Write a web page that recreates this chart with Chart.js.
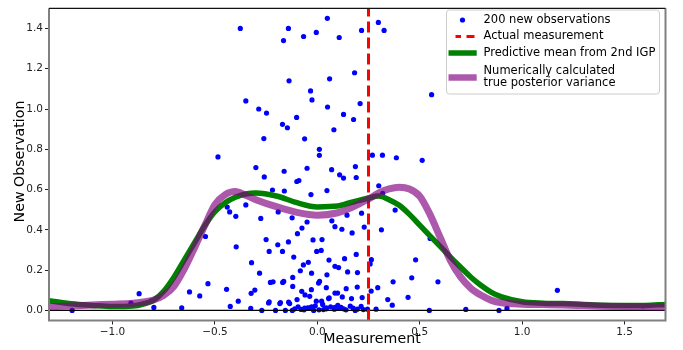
<!DOCTYPE html>
<html>
<head>
<meta charset="utf-8">
<script src="https://cdn.jsdelivr.net/npm/chart.js@4"></script>
<style>
  html, body { margin: 0; padding: 0; background: #fff; }
  canvas { display: block; }
</style>
</head>
<body>
<canvas id="chart" width="683" height="350"></canvas>
<script>
// 200 new observations
const obsX = [
  -0.376,-0.141,-0.165,-0.067,-0.005,0.049,0.107,0.216,0.298,0.326,
  -0.138,0.060,0.182,-0.033,-0.026,-0.349,-0.286,-0.248,0.050,0.128,
  0.209,0.558,-0.170,-0.146,-0.101,0.177,0.081,-0.261,-0.062,0.010,
  0.010,-0.485,0.269,0.318,0.386,0.512,-0.300,-0.162,-0.050,0.070,
  0.186,0.109,0.128,0.190,-0.259,-0.100,-0.090,-0.219,-0.161,-0.031,
  0.047,0.300,0.319,-0.440,-0.349,-0.428,-0.398,-0.276,-0.191,-0.123,
  -0.050,0.071,0.145,0.216,0.380,-0.075,-0.097,0.086,0.120,0.170,
  0.229,0.313,-0.546,0.551,-0.396,-0.250,-0.193,-0.141,-0.021,0.023,
  -0.235,-0.170,-0.003,0.019,-0.115,0.057,0.133,0.190,0.264,0.258,
  0.480,-0.321,-0.044,-0.068,0.086,0.104,-0.083,-0.028,-0.282,0.047,
  0.148,0.196,-0.120,0.461,-0.229,-0.216,-0.169,-0.164,0.011,0.006,
  -0.534,0.370,0.589,-0.120,0.044,-0.029,0.141,0.195,0.295,-0.443,
  -0.305,-0.323,-0.076,0.086,0.099,0.263,1.172,-0.870,-0.624,-0.574,
  -0.060,-0.037,0.058,0.122,0.167,0.219,0.443,0.344,-0.099,0.055,
  -0.811,-0.386,-0.005,0.021,-0.238,-0.235,-0.183,-0.180,-0.140,-0.135,
  -0.910,0.026,0.366,1.590,-0.425,-0.010,-0.094,0.161,0.214,-0.798,
  -0.662,-0.325,-0.062,-0.047,-0.040,0.044,0.086,0.101,0.116,0.926,
  -0.079,0.008,0.044,0.140,0.245,0.287,0.725,-1.197,-0.271,-0.204,
  -0.156,-0.122,-0.018,0.185,0.547,0.887,0.083,
  -0.110,0.030,0.065,0.128,-0.028,0.195,0.100,-0.065,0.175,0.225
];
const obsY = [
  1.40,1.40,1.34,1.36,1.38,1.45,1.355,1.39,1.43,1.39,
  1.14,1.15,1.18,1.09,1.045,1.04,1.00,0.98,1.01,0.973,
  1.027,1.071,0.924,0.907,0.958,0.948,0.897,0.853,0.852,0.80,
  0.77,0.762,0.771,0.771,0.758,0.745,0.709,0.691,0.706,0.699,
  0.714,0.673,0.657,0.660,0.663,0.640,0.645,0.598,0.593,0.575,
  0.595,0.619,0.581,0.513,0.524,0.489,0.467,0.457,0.489,0.460,
  0.439,0.445,0.473,0.483,0.498,0.409,0.381,0.416,0.403,0.385,
  0.414,0.400,0.367,0.357,0.316,0.352,0.326,0.340,0.350,0.352,
  0.293,0.293,0.293,0.298,0.265,0.250,0.257,0.278,0.252,0.231,
  0.251,0.237,0.239,0.226,0.219,0.213,0.197,0.185,0.185,0.177,
  0.191,0.188,0.164,0.162,0.139,0.142,0.139,0.144,0.144,0.136,
  0.133,0.142,0.142,0.119,0.113,0.103,0.108,0.116,0.113,0.105,
  0.101,0.085,0.095,0.086,0.086,0.096,0.100,0.083,0.092,0.072,
  0.077,0.070,0.062,0.067,0.059,0.064,0.065,0.054,0.054,0.059,
  0.047,0.046,0.046,0.046,0.037,0.042,0.034,0.039,0.041,0.034,
  0.037,0.030,0.026,0.023,0.020,0.023,0.018,0.021,0.020,0.015,
  0.013,0.010,0.012,0.013,0.012,0.013,0.015,0.010,0.015,0.010,
  0.005,0.003,0.008,0.003,0.006,0.006,0.005,0.000,0.000,0.000,
  0.000,0.000,0.000,0.000,0.000,0.000,0.006,
  0.008,0.004,0.018,0.008,0.018,0.006,0.025,0.003,0.012,0.004
];

// curves
const curveX = [-1.31,-1.2,-1.1,-1.0,-0.9,-0.85,-0.8,-0.75,-0.7,-0.65,
  -0.6,-0.55,-0.5,-0.45,-0.4,-0.35,-0.3,-0.2,-0.1,0.0,
  0.1,0.15,0.2,0.25,0.3,0.35,0.4,0.45,0.5,0.55,
  0.6,0.65,0.7,0.75,0.8,0.85,0.9,1.0,1.1,1.2,
  1.3,1.4,1.5,1.6,1.7];
const predMean = [0.048,0.033,0.025,0.019,0.022,0.032,0.05,0.095,0.165,0.25,
  0.335,0.42,0.49,0.535,0.562,0.578,0.583,0.568,0.535,0.514,
  0.518,0.532,0.545,0.558,0.568,0.55,0.522,0.477,0.423,0.37,
  0.318,0.265,0.214,0.165,0.124,0.09,0.067,0.043,0.036,0.034,
  0.03,0.026,0.024,0.025,0.03];
const trueVar = [0.018,0.022,0.027,0.031,0.036,0.042,0.052,0.075,0.12,0.205,
  0.31,0.42,0.525,0.575,0.59,0.572,0.55,0.515,0.487,0.473,
  0.485,0.503,0.527,0.553,0.583,0.603,0.612,0.603,0.567,0.477,
  0.362,0.247,0.165,0.11,0.075,0.05,0.038,0.031,0.029,0.027,
  0.024,0.021,0.019,0.018,0.017];

const actualMeasurement = 0.25;
const xTicks = [-1.0, -0.5, 0.0, 0.5, 1.0, 1.5];
const yTicks = [0.0, 0.2, 0.4, 0.6, 0.8, 1.0, 1.2, 1.4];
const xRange = [-1.31, 1.70];
const yRange = [-0.05, 1.5];
const legendLabels = ["200 new observations", "Actual measurement",
  "Predictive mean from 2nd IGP", ["Numerically calculated", "true posterior variance"]];

const FONT = '"DejaVu Sans", sans-serif';
const PURPLE = 'rgba(128,0,128,0.65)';

function fmt(v) {
  return Number(v).toFixed(1).replace('-', '\u2212');
}

// frame, axis titles and legend
const overlay = {
  id: 'overlay',
  afterDraw(chart) {
    const { ctx, chartArea: a } = chart;
    ctx.save();
    ctx.strokeStyle = '#808080';
    ctx.lineWidth = 2;
    ctx.beginPath();
    ctx.moveTo(a.left, a.top);
    ctx.lineTo(a.left, a.bottom);
    ctx.lineTo(a.right, a.bottom);
    ctx.lineTo(a.right, a.top);
    ctx.stroke();
    ctx.strokeStyle = '#111';
    ctx.lineWidth = 1.3;
    ctx.beginPath();
    ctx.moveTo(a.left, a.top);
    ctx.lineTo(a.right, a.top);
    ctx.stroke();

    ctx.fillStyle = '#000';
    ctx.font = '14.2px ' + FONT;
    ctx.textAlign = 'center';
    ctx.textBaseline = 'middle';
    ctx.fillText('Measurement', 372, 339.5);
    ctx.save();
    ctx.translate(20.5, 161.5);
    ctx.rotate(-Math.PI / 2);
    ctx.fillText('New Observation', 0, 0);
    ctx.restore();

    // legend box
    const bx = 446.5, by = 10, bw = 213, bh = 84, r = 3;
    ctx.beginPath();
    ctx.moveTo(bx + r, by);
    ctx.arcTo(bx + bw, by, bx + bw, by + bh, r);
    ctx.arcTo(bx + bw, by + bh, bx, by + bh, r);
    ctx.arcTo(bx, by + bh, bx, by, r);
    ctx.arcTo(bx, by, bx + bw, by, r);
    ctx.closePath();
    ctx.fillStyle = 'rgba(255,255,255,0.8)';
    ctx.fill();
    ctx.strokeStyle = '#cccccc';
    ctx.lineWidth = 1;
    ctx.stroke();

    const hx0 = 448.5, hx1 = 476.7, tx = 483.5;
    // marker
    ctx.fillStyle = '#0000ff';
    ctx.beginPath();
    ctx.arc(462.5, 20, 2.6, 0, Math.PI * 2);
    ctx.fill();
    // dashed red
    ctx.strokeStyle = '#ff0000';
    ctx.lineWidth = 3;
    ctx.beginPath();
    ctx.moveTo(455.5, 36.5); ctx.lineTo(461, 36.5);
    ctx.moveTo(466.5, 36.5); ctx.lineTo(474.5, 36.5);
    ctx.stroke();
    // green
    ctx.strokeStyle = '#008000';
    ctx.lineWidth = 5.5;
    ctx.beginPath();
    ctx.moveTo(hx0, 53); ctx.lineTo(hx1, 53);
    ctx.stroke();
    // purple
    ctx.strokeStyle = PURPLE;
    ctx.lineWidth = 6.5;
    ctx.beginPath();
    ctx.moveTo(hx0, 77.5); ctx.lineTo(hx1, 77.5);
    ctx.stroke();

    ctx.fillStyle = '#000';
    ctx.font = '11.5px ' + FONT;
    ctx.textAlign = 'left';
    ctx.textBaseline = 'middle';
    ctx.fillText(legendLabels[0], tx, 20);
    ctx.fillText(legendLabels[1], tx, 36.5);
    ctx.fillText(legendLabels[2], tx, 53);
    ctx.fillText(legendLabels[3][0], tx, 71);
    ctx.fillText(legendLabels[3][1], tx, 83.5);
    ctx.restore();
  }
};

const ctx = document.getElementById('chart').getContext('2d');
new Chart(ctx, {
  type: 'scatter',
  data: {
    datasets: [
      {
        label: legendLabels[0],
        data: obsX.map((x, i) => ({ x: x, y: obsY[i] })),
        backgroundColor: '#0000ff',
        borderWidth: 0,
        pointRadius: 2.6,
        order: 5
      },
      {
        label: 'zero',
        data: [{ x: xRange[0], y: 0 }, { x: xRange[1], y: 0 }],
        showLine: true,
        borderColor: '#000',
        borderWidth: 1.2,
        pointRadius: 0,
        order: 4
      },
      {
        label: legendLabels[1],
        data: [{ x: actualMeasurement, y: yRange[0] }, { x: actualMeasurement, y: yRange[1] }],
        showLine: true,
        borderColor: '#ff0000',
        borderWidth: 3,
        borderDash: [11, 5],
        pointRadius: 0,
        order: 3
      },
      {
        label: legendLabels[2],
        data: curveX.map((x, i) => ({ x: x, y: predMean[i] })),
        showLine: true,
        borderColor: '#008000',
        borderWidth: 5.5,
        pointRadius: 0,
        cubicInterpolationMode: 'monotone',
        clip: 0,
        order: 2
      },
      {
        label: 'true posterior variance',
        data: curveX.map((x, i) => ({ x: x, y: trueVar[i] })),
        showLine: true,
        borderColor: PURPLE,
        borderWidth: 7,
        pointRadius: 0,
        cubicInterpolationMode: 'monotone',
        clip: 0,
        order: 1
      }
    ]
  },
  options: {
    responsive: false,
    animation: false,
    events: [],
    layout: { padding: { left: 0, top: 4.7, right: 17.5, bottom: 0 } },
    plugins: {
      legend: { display: false },
      tooltip: { enabled: false }
    },
    scales: {
      x: {
        type: 'linear',
        min: xRange[0],
        max: xRange[1],
        afterBuildTicks: (s) => { s.ticks = xTicks.map(v => ({ value: v })); },
        afterFit: (s) => { s.height = 29.5; },
        grid: { display: true, drawOnChartArea: false, drawTicks: true, tickLength: 4, tickColor: '#222', tickWidth: 1 },
        border: { display: false },
        ticks: {
          callback: (v) => fmt(v),
          font: { family: FONT, size: 10.5 },
          color: '#222',
          padding: 1,
          maxRotation: 0,
          autoSkip: false
        }
      },
      y: {
        type: 'linear',
        min: yRange[0],
        max: yRange[1],
        afterBuildTicks: (s) => { s.ticks = yTicks.map(v => ({ value: v })); },
        afterFit: (s) => { s.width = 49; },
        grid: { display: true, drawOnChartArea: false, drawTicks: true, tickLength: 4, tickColor: '#222', tickWidth: 1 },
        border: { display: false },
        ticks: {
          callback: (v) => fmt(v),
          font: { family: FONT, size: 10.5 },
          color: '#222',
          padding: 2,
          autoSkip: false
        }
      }
    }
  },
  plugins: [overlay]
});
</script>
</body>
</html>
